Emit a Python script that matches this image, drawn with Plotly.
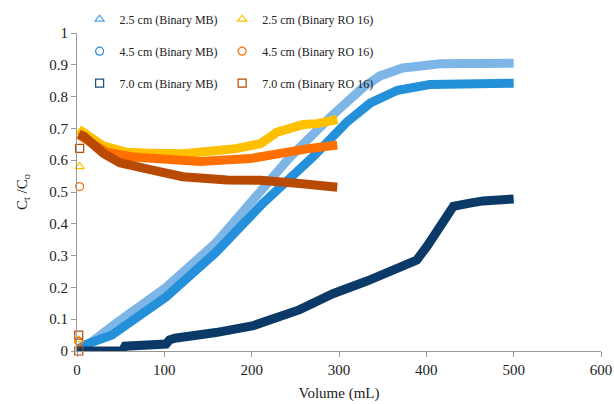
import plotly.graph_objects as go

# ---- data ----
mb25_x = [0, 10, 45, 102, 159, 198, 244, 290, 309, 328, 347, 373, 416, 460, 500]
mb25_y = [0.005, 0.015, 0.088, 0.2, 0.34, 0.468, 0.61, 0.735, 0.78, 0.83, 0.865, 0.89, 0.903, 0.905, 0.905]

mb45_x = [0, 10, 40, 48, 102, 159, 202, 213, 270, 309, 336, 367, 404, 450, 500]
mb45_y = [0.003, 0.02, 0.05, 0.065, 0.17, 0.31, 0.43, 0.465, 0.61, 0.72, 0.78, 0.82, 0.838, 0.842, 0.842]

mb70_x = [0, 52, 55, 102, 106, 112, 159, 202, 255, 293, 332, 370, 389, 401, 416, 424, 431, 450, 465, 500]
mb70_y = [0, 0, 0.015, 0.022, 0.035, 0.04, 0.058, 0.08, 0.13, 0.18, 0.22, 0.26, 0.286, 0.33, 0.39, 0.43, 0.455, 0.465, 0.472, 0.478]

ro25_x = [2, 6, 30, 57, 84, 121, 179, 210, 229, 259, 275, 298]
ro25_y = [0.675, 0.69, 0.645, 0.625, 0.622, 0.62, 0.635, 0.652, 0.688, 0.712, 0.715, 0.728]

ro45_x = [2, 18, 34, 64, 107, 141, 198, 236, 267, 298]
ro45_y = [0.68, 0.65, 0.625, 0.61, 0.6, 0.596, 0.605, 0.625, 0.637, 0.648]

ro70_x = [2, 8, 30, 49, 76, 107, 121, 172, 210, 255, 298]
ro70_y = [0.682, 0.675, 0.622, 0.592, 0.575, 0.56, 0.548, 0.538, 0.537, 0.527, 0.515]

# isolated early points (open markers)
ro25_pts_x = [2, 3]
ro25_pts_y = [0.035, 0.58]
ro45_pts_x = [2, 3]
ro45_pts_y = [0.03, 0.517]
ro70_pts_x = [2, 2, 3]
ro70_pts_y = [0.0, 0.05, 0.637]

names_mb = ["2.5 cm (Binary MB)", "4.5 cm (Binary MB)", "7.0 cm (Binary MB)"]
names_ro = ["2.5 cm (Binary RO 16)", "4.5 cm (Binary RO 16)", "7.0 cm (Binary RO 16)"]

c_mb = ["#7DB5E6", "#2490D9", "#0C3A68"]
c_mb_leg = ["#4EA0E4", "#2490D9", "#1F4E79"]
c_ro = ["#FFC000", "#FF7000", "#B84A04"]
symbols = ["triangle-up-open", "circle-open", "square-open"]

FONT = "Liberation Serif"

fig = go.Figure()

mb_series = [(mb25_x, mb25_y), (mb45_x, mb45_y), (mb70_x, mb70_y)]
ro_series = [(ro25_x, ro25_y), (ro45_x, ro45_y), (ro70_x, ro70_y)]
ro_pts = [(ro25_pts_x, ro25_pts_y), (ro45_pts_x, ro45_pts_y), (ro70_pts_x, ro70_pts_y)]

for (x, y), col in zip(mb_series, c_mb):
    fig.add_trace(go.Scatter(x=x, y=y, mode="lines", showlegend=False,
                             line=dict(color=col, width=9), cliponaxis=False,
                             hoverinfo="skip"))
for (x, y), col in zip(ro_series, c_ro):
    fig.add_trace(go.Scatter(x=x, y=y, mode="lines", showlegend=False,
                             line=dict(color=col, width=9), cliponaxis=False,
                             hoverinfo="skip"))

for i in range(3):
    fig.add_trace(go.Scatter(x=[None], y=[None], mode="markers", name=names_mb[i],
                             legend="legend", legendgroup="mb%d" % i,
                             marker=dict(symbol=symbols[i], size=8, color=c_mb_leg[i],
                                         line=dict(width=1.2, color=c_mb_leg[i]))))
for i in range(3):
    px_, py_ = ro_pts[i]
    fig.add_trace(go.Scatter(x=px_, y=py_, mode="markers", name=names_ro[i],
                             legend="legend2", legendgroup="ro%d" % i, cliponaxis=False,
                             marker=dict(symbol=symbols[i], size=8, color=c_ro[i],
                                         line=dict(width=1.2, color=c_ro[i]))))

legend_common = dict(bgcolor="rgba(0,0,0,0)", tracegroupgap=13,
                     xanchor="left", yanchor="top", itemwidth=30,
                     font=dict(family=FONT, size=12, color="#222"))

fig.update_layout(
    width=614, height=404,
    margin=dict(l=77, r=13, t=33, b=53, autoexpand=False),
    paper_bgcolor="white", plot_bgcolor="white",
    font=dict(family=FONT, size=15, color="#222"),
    legend=dict(x=0.005, y=1.089, **legend_common),
    legend2=dict(x=0.277, y=1.089, **legend_common),
    xaxis=dict(range=[0, 600], dtick=100, showgrid=False, zeroline=False,
               showline=True, linecolor="#999", linewidth=1, automargin=False,
               ticks="outside", ticklen=5, tickcolor="#999",
               tickfont=dict(family=FONT, size=15, color="#222"),
               title=dict(text="Volume (mL)", font=dict(family=FONT, size=15, color="#222"), standoff=10)),
    yaxis=dict(range=[0, 1], dtick=0.1, showgrid=False, zeroline=False,
               showline=True, linecolor="#999", linewidth=1, automargin=False,
               ticks="outside", ticklen=5, tickcolor="#999",
               tickfont=dict(family=FONT, size=15, color="#222"),
               title=dict(text="C<sub>t</sub> /C<sub>o</sub>", font=dict(family=FONT, size=15, color="#222"), standoff=18)),
)

fig.write_html("out.html", config={"displayModeBar": False},
               post_script="document.body.style.margin='0';")
